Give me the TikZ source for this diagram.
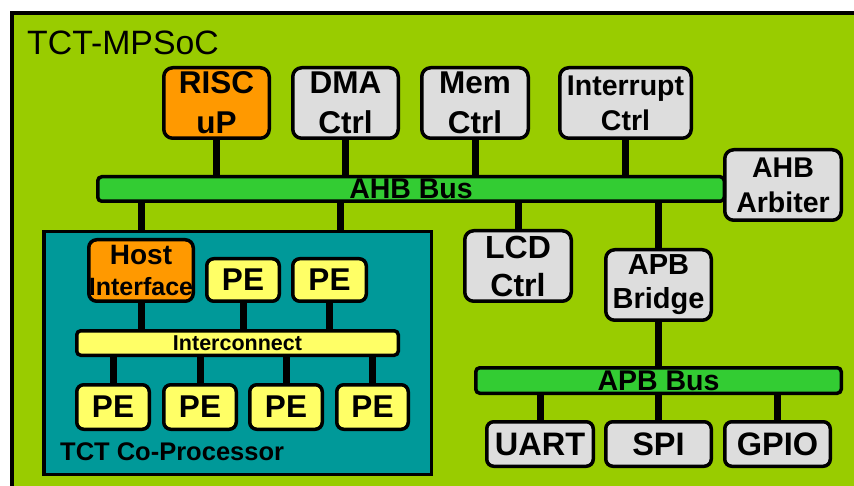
\documentclass[tikz,border=0pt]{standalone}
\usepackage{fontspec}
\setmainfont{Liberation Sans}
\definecolor{socgreen}{HTML}{99CC00}
\definecolor{busgreen}{HTML}{33CC33}
\definecolor{boxgray}{HTML}{DDDDDD}
\definecolor{boxorange}{HTML}{FF9900}
\definecolor{copteal}{HTML}{009999}
\definecolor{peyellow}{HTML}{FFFF66}
\newcommand\fs[2]{\fontsize{#1}{#2}\selectfont\bfseries}
\newcommand\bx[7]{\node[#6, minimum width={#4-#2-3.5}, minimum height={#5-#3-3.5}] (#1) at ({(#2+#4)/2},{(#3+#5)/2}) {#7};}
\tikzset{
  blk/.style={draw=black, line width=3.5pt, rounded corners=9pt, inner sep=0pt, align=center},
  gray/.style={blk, fill=boxgray},
  orng/.style={blk, fill=boxorange},
  pebox/.style={blk, fill=peyellow, rounded corners=7pt, font=\fs{31.5}{36}},
  iobox/.style={blk, fill=boxgray, rounded corners=7pt, font=\fs{32.5}{36}},
  bus/.style={draw=black, line width=3.5pt, rounded corners=4pt, inner sep=0pt, fill=busgreen},
  conn/.style={line width=7pt, draw=black},
}
\begin{document}
\begin{tikzpicture}[x=1pt,y=-1pt]
\useasboundingbox (0,0) rectangle (854,486);
\clip (0,0) rectangle (854,486);
\fill[white] (0,0) rectangle (854,486);
\draw[line width=4pt, fill=socgreen] (12,13) rectangle (880,520);
\node[anchor=base west, font=\fontsize{33.8}{36}\selectfont, inner sep=0pt] (title) at (27,55) {TCT-MPSoC};

% top row
\bx{risc}{162}{66}{271}{140}{orng, font=\fs{31.5}{40}}{RISC\\uP}
\bx{dma}{291}{66}{400}{140}{gray, font=\fs{31.5}{40}}{DMA\\Ctrl}
\bx{mem}{420}{66}{530}{140}{gray, font=\fs{31.5}{40}}{Mem\\Ctrl}
\bx{intr}{558}{66}{693}{140}{gray, font=\fs{28.5}{35}}{Interrupt\\Ctrl}
\bx{arb}{723}{148}{843}{222}{gray, font=\fs{28.5}{35}}{AHB\\Arbiter}

% AHB bus
\bx{ahb}{96}{175}{726}{203}{bus, font=\fs{28.5}{30}}{AHB Bus}

% LCD and APB bridge
\bx{lcd}{463}{229}{573}{303}{gray, font=\fs{32}{38}}{LCD\\Ctrl}
\bx{bridge}{604}{248}{713}{322}{gray, font=\fs{29}{34}}{APB\\Bridge}

% APB bus
\bx{apb}{474}{366}{843}{395}{bus, font=\fs{28.5}{30}}{APB Bus}
\bx{uart}{485}{420}{595}{468}{iobox}{UART}
\bx{spi}{604}{420}{713}{468}{iobox}{SPI}
\bx{gpio}{723}{420}{832}{468}{iobox}{GPIO}

% co-processor
\bx{coproc}{42}{230}{433}{476}{draw=black, line width=3.5pt, fill=copteal}{}
\node[anchor=base west, font=\fs{25.5}{28}, inner sep=0pt] (coplabel) at (60,460) {TCT Co-Processor};
\bx{host}{87}{238}{195}{303}{orng, rounded corners=8pt, font=\fs{25}{31}}{{\fontsize{28}{31}\selectfont Host}\\Interface}
\bx{pet1}{205}{257}{281}{303}{pebox}{PE}
\bx{pet2}{291}{257}{368}{303}{pebox}{PE}
\bx{ic}{75}{329}{400}{357}{bus, fill=peyellow, font=\fs{21.5}{22}}{Interconnect}
\bx{peb1}{75}{383}{151}{431}{pebox}{PE}
\bx{peb2}{162}{383}{238}{431}{pebox}{PE}
\bx{peb3}{248}{383}{324}{431}{pebox}{PE}
\bx{peb4}{335}{383}{410}{431}{pebox}{PE}

% connectors
\coordinate (c2) at (340,0);
\draw[conn] (risc.south) -- (risc.south |- ahb.north);
\draw[conn] (dma.south) -- (dma.south |- ahb.north);
\draw[conn] (mem.south) -- (mem.south |- ahb.north);
\draw[conn] (intr.south) -- (intr.south |- ahb.north);
\draw[conn] (ahb.south -| host) -- (coproc.north -| host);
\draw[conn] (ahb.south -| c2) -- (coproc.north -| c2);
\draw[conn] (ahb.south -| lcd) -- (lcd.north);
\draw[conn] (ahb.south -| bridge) -- (bridge.north);
\draw[conn] (bridge.south) -- (bridge.south |- apb.north);
\draw[conn] (apb.south -| uart) -- (uart.north);
\draw[conn] (apb.south -| spi) -- (spi.north);
\draw[conn] (apb.south -| gpio) -- (gpio.north);
\draw[conn] (host.south) -- (host.south |- ic.north);
\draw[conn] (pet1.south) -- (pet1.south |- ic.north);
\draw[conn] (pet2.south) -- (pet2.south |- ic.north);
\draw[conn] (ic.south -| peb1) -- (peb1.north);
\draw[conn] (ic.south -| peb2) -- (peb2.north);
\draw[conn] (ic.south -| peb3) -- (peb3.north);
\draw[conn] (ic.south -| peb4) -- (peb4.north);
\end{tikzpicture}
\end{document}
